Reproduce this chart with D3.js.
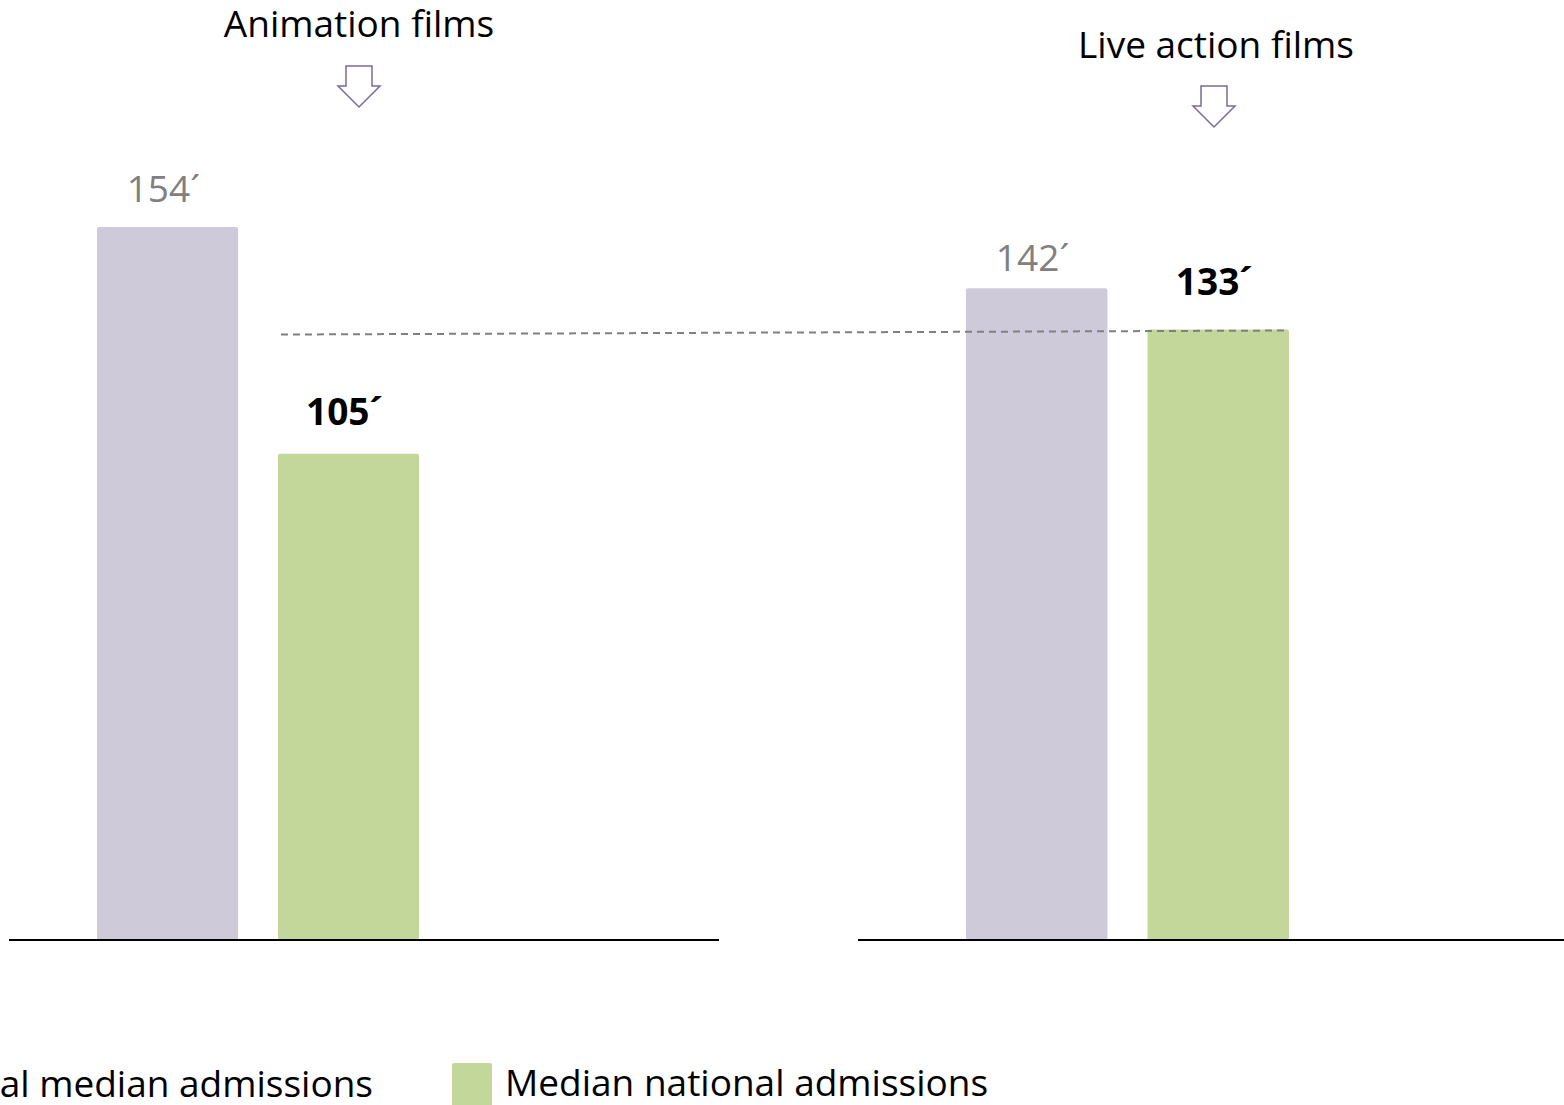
<!DOCTYPE html>
<html><head><meta charset="utf-8">
<script src="https://cdn.jsdelivr.net/npm/d3@7"></script>
<style>body{margin:0;background:#fff;overflow:hidden}svg{display:block}</style>
</head><body>
<svg id="c" width="1564" height="1105"></svg>
<script>
const panels = ["Animation films", "Live action films"];
const series = ["Total median admissions", "Median national admissions"];
const animationValues = [154, 105];
const liveActionValues = [142, 133];
const valueLabels = [["154´", "105´"], ["142´", "133´"]];
const referenceValue = 133;

const colors = ["#CFCAD9", "#C4D79B"];
const font = "'Open Sans', Lato, sans-serif";
const fs = 37;
const svg = d3.select("#c");
const baseY = 940;

const layout = [
  {axis:[9,719], bars:[97,419], pxPerUnit:713/154, title:[359,37], arrowTop:66, labelOff:[25,29]},
  {axis:[858,1564], bars:[966,1289], pxPerUnit:4.59, title:[1216,58], arrowTop:86, labelOff:[17,35]}
];
const data = [animationValues, liveActionValues];

const scalesY = [];
layout.forEach((L, i) => {
  const x = d3.scaleBand().domain(series).range(L.bars).paddingInner(40/181).paddingOuter(0);
  const maxV = d3.max(data[i]);
  const y = d3.scaleLinear().domain([0, maxV]).range([baseY, baseY - maxV * L.pxPerUnit]);
  scalesY.push(y);
  const g = svg.append("g");
  g.selectAll("rect").data(data[i]).join("rect")
    .attr("x", (d, j) => x(series[j]))
    .attr("width", x.bandwidth())
    .attr("y", d => y(d))
    .attr("height", d => baseY - y(d))
    .attr("rx", 2)
    .attr("fill", (d, j) => colors[j]);
  g.append("line").attr("x1", L.axis[0]).attr("x2", L.axis[1]).attr("y1", baseY).attr("y2", baseY)
    .attr("stroke", "#000").attr("stroke-width", 2);
  g.selectAll("text.val").data(data[i]).join("text").attr("class", "val")
    .attr("x", (d, j) => x(series[j]) + x.bandwidth() / 2 - 4)
    .attr("y", (d, j) => y(d) - L.labelOff[j])
    .attr("text-anchor", "middle")
    .attr("font-family", font)
    .attr("font-size", fs)
    .attr("font-weight", (d, j) => j === 1 ? "bold" : "normal")
    .attr("fill", (d, j) => j === 1 ? "#000" : "#808080")
    .text((d, j) => valueLabels[i][j]);
  g.append("text").attr("x", L.title[0]).attr("y", L.title[1])
    .attr("text-anchor", "middle").attr("font-family", font).attr("font-size", fs)
    .attr("fill", "#000").text(panels[i]);
  const cx = L.title[0] - (i === 0 ? 0 : 2), t = L.arrowTop;
  const p = d3.path();
  p.moveTo(cx - 13, t); p.lineTo(cx + 13, t); p.lineTo(cx + 13, t + 20); p.lineTo(cx + 21, t + 20);
  p.lineTo(cx, t + 41); p.lineTo(cx - 21, t + 20); p.lineTo(cx - 13, t + 20); p.closePath();
  g.append("path").attr("d", p.toString()).attr("fill", "#fff").attr("stroke", "#7B6A9C").attr("stroke-width", 1.5);
});

// dashed reference line
svg.append("line").attr("x1", 281).attr("x2", 1286)
  .attr("y1", scalesY[1](referenceValue) + 5).attr("y2", scalesY[1](referenceValue) + 1)
  .attr("stroke", "#808080").attr("stroke-width", 2).attr("stroke-dasharray", "7,5");

// legend
const leg = svg.append("g");
const t0 = leg.append("text").attr("x", 373).attr("y", 1097).attr("text-anchor", "end")
  .attr("font-family", font).attr("font-size", fs).attr("fill", "#000").text(series[0]);
const bb = t0.node().getBBox();
leg.append("rect").attr("x", bb.x - 53).attr("y", 1063).attr("width", 40).attr("height", 44).attr("rx", 2).attr("fill", colors[0]);
leg.append("rect").attr("x", 452).attr("y", 1063).attr("width", 40).attr("height", 44).attr("rx", 2).attr("fill", colors[1]);
leg.append("text").attr("x", 505).attr("y", 1096).attr("font-family", font).attr("font-size", fs)
  .attr("fill", "#000").text(series[1]);
</script>
</body></html>
